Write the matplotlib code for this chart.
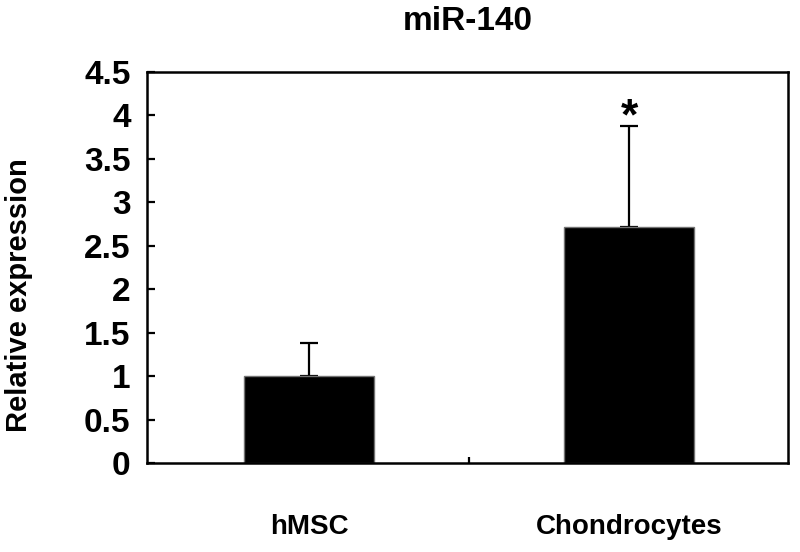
import matplotlib.pyplot as plt

plt.rcParams['font.family'] = ['Liberation Sans', 'DejaVu Sans']
plt.rcParams['font.weight'] = 'bold'

groups = ["hMSC", "Chondrocytes"]
means = [1.0, 2.72]
errs = [0.38, 1.16]
marks = ["", "*"]
yticks = [0, 0.5, 1, 1.5, 2, 2.5, 3, 3.5, 4, 4.5]
ytick_labels = ["0", "0.5", "1", "1.5", "2", "2.5", "3", "3.5", "4", "4.5"]


fig = plt.figure(figsize=(8, 5.52), dpi=100)
ax = fig.add_axes([0.184, 0.1612, 0.801, 0.7084])

x = list(range(len(groups)))
ax.bar(x, means, width=0.406, color="black", edgecolor="0.45", linewidth=1, zorder=2)
ax.errorbar(x, means, yerr=[[0] * len(errs), errs], fmt="none", ecolor="black",
            elinewidth=1.6, capsize=6.5, capthick=1.6, zorder=1)
for xi, m, e, s in zip(x, means, errs, marks):
    if s:
        ax.text(xi, m + e - 0.14, s, ha="center", va="bottom", fontsize=32, fontweight="bold")

ax.set_xlim(-0.506, 1.497)
ax.set_ylim(0, 4.5)

ax.set_yticks(yticks)
ax.set_yticklabels(ytick_labels, fontsize=24, fontweight="bold")
ax.tick_params(axis="y", direction="in", length=6, width=1.6, pad=12)

# category separator tick in the middle, labels under the bars
ax.set_xticks([0.5])
ax.set_xticklabels([""])
ax.tick_params(axis="x", direction="in", length=4, width=1.6)
ax.set_xticks(x, minor=True)
ax.set_xticklabels(groups, minor=True, fontsize=20, fontweight="bold")
ax.tick_params(axis="x", which="minor", length=0, pad=37)

for sp in ax.spines.values():
    sp.set_linewidth(1.8)

ax.set_ylabel("Relative expression", fontsize=21, fontweight="bold")
ax.yaxis.set_label_coords(-0.178, 0.43)
ax.set_title("miR-140", fontsize=24, fontweight="bold", pad=30)

fig.savefig("out.png", dpi=100)
